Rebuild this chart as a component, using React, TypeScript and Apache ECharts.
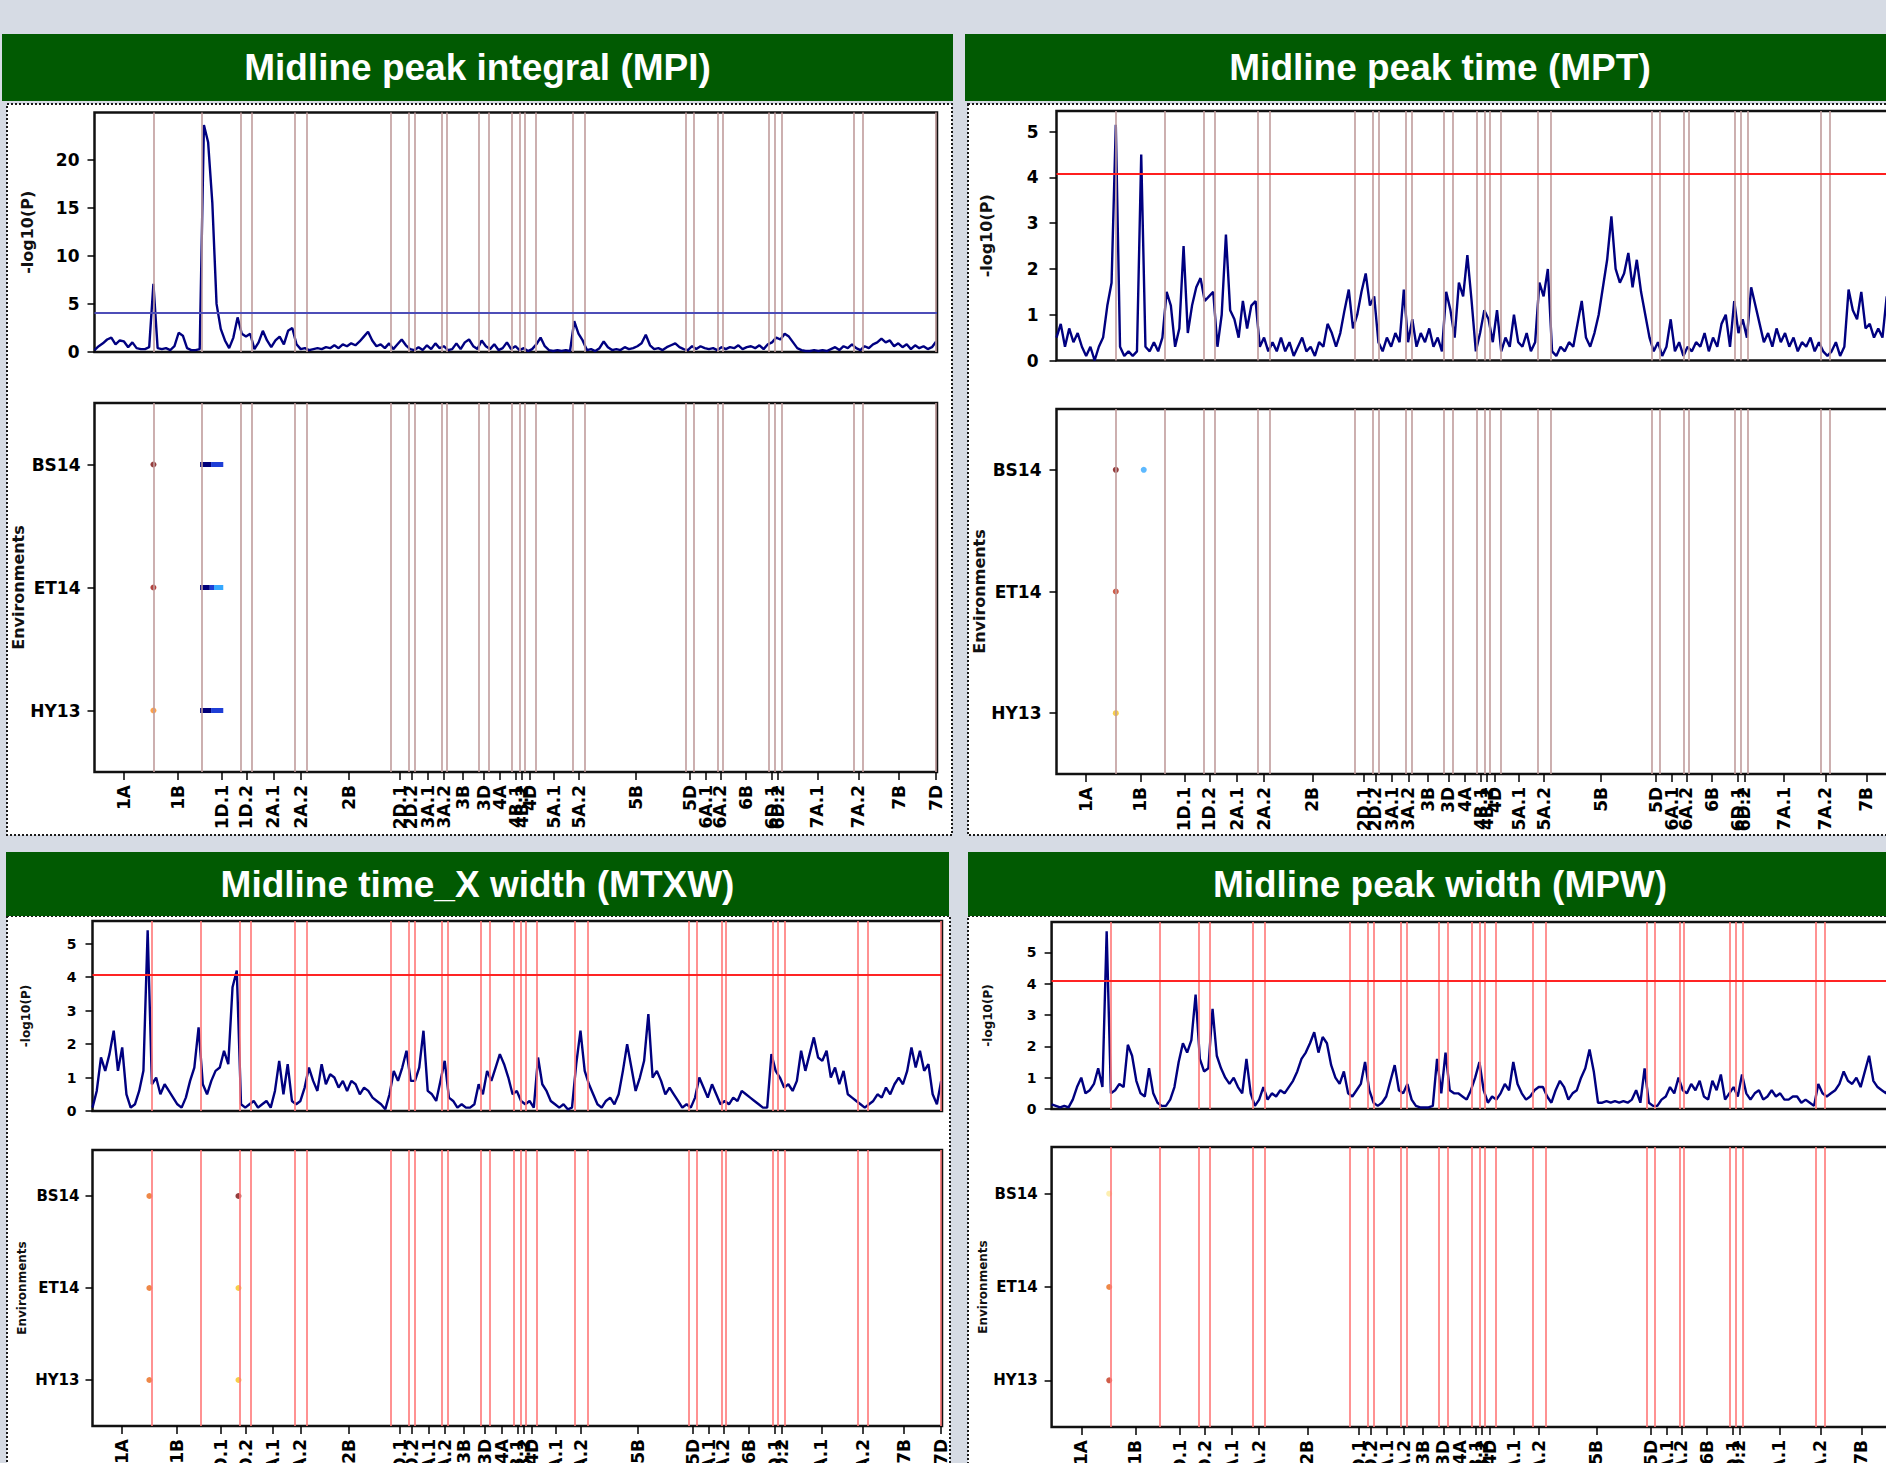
import React, { useEffect, useRef } from "react";
import * as echarts from "echarts";

// ---------- data ----------
const chromosomeNames = ["1A","1B","1D.1","1D.2","2A.1","2A.2","2B","2D.1","2D.2","3A.1","3A.2","3B","3D","4A","4B.1","4B.2","4D","5A.1","5A.2","5B","5D","6A.1","6A.2","6B","6D.1","6D.2","7A.1","7A.2","7B","7D"];
const chromosomeLengths = [70,58,46,13,51,14,100,21,7,32,7,38,11,28,9,6,13,44,15,120,9,29,5,55,7,8,86,11,86,2];
const environments = ["HY13", "ET14", "BS14"];
const markerSpacing = 5;

const mpiLogP = [
  0.2,0.6,0.9,1.3,1.5,0.8,1.2,1.1,0.5,1.0,
  0.4,0.3,0.3,0.5,7.1,0.4,0.3,0.4,0.2,0.6,
  2.0,1.7,0.4,0.2,0.2,0.3,23.6,21.8,15.5,5.0,
  2.4,1.2,0.4,1.5,3.6,1.9,1.6,1.9,0.3,1.0,
  2.2,1.2,0.5,1.2,1.6,0.8,2.2,2.5,0.8,0.3,
  0.4,0.2,0.3,0.4,0.3,0.5,0.4,0.7,0.4,0.8,
  0.6,0.9,0.7,1.1,1.6,2.1,1.2,0.6,0.8,0.4,
  0.9,0.3,0.8,1.3,0.7,0.3,0.2,0.5,0.2,0.7,
  0.3,0.9,0.4,0.6,0.2,0.3,0.9,0.3,1.0,1.3,
  0.6,0.3,1.2,0.6,0.3,0.8,0.2,0.4,1.0,0.3,
  0.6,0.2,0.4,0.1,0.3,0.8,1.5,0.6,0.2,0.1,
  0.2,0.1,0.2,0.1,3.2,1.9,1.2,0.2,0.3,0.1,
  0.4,1.1,0.5,0.2,0.3,0.2,0.5,0.3,0.4,0.6,
  0.9,1.8,0.7,0.3,0.4,0.2,0.5,0.7,0.9,0.5,
  0.3,0.2,0.6,0.3,0.6,0.4,0.3,0.4,0.2,0.5,
  0.3,0.5,0.4,0.7,0.3,0.5,0.6,0.4,0.7,0.3,
  0.8,1.0,1.5,1.3,1.9,1.6,1.0,0.4,0.2,0.1,
  0.1,0.2,0.1,0.2,0.1,0.3,0.5,0.2,0.6,0.4,
  0.8,0.4,0.2,0.6,0.4,0.8,1.0,1.4,1.0,1.2,
  0.6,0.9,0.5,0.8,0.3,0.7,0.4,0.6,0.3,0.5,
  1.1,
];

const mptLogP = [
  0.5,0.8,0.3,0.7,0.4,0.6,0.3,0.1,0.3,0.0,
  0.3,0.5,1.2,1.7,5.15,0.3,0.1,0.2,0.1,0.2,
  4.5,0.3,0.2,0.4,0.2,0.5,1.5,1.2,0.3,0.7,
  2.5,0.6,1.2,1.6,1.8,1.3,1.4,1.5,0.3,1.0,
  2.75,1.1,0.9,0.5,1.3,0.7,1.2,1.3,0.3,0.5,
  0.2,0.4,0.2,0.5,0.2,0.4,0.1,0.3,0.5,0.2,
  0.3,0.1,0.4,0.3,0.8,0.6,0.3,0.6,1.1,1.55,
  0.7,1.0,1.5,1.9,1.2,1.4,0.4,0.2,0.5,0.3,
  0.6,0.4,1.55,0.4,0.9,0.3,0.6,0.4,0.7,0.3,
  0.5,0.2,1.5,1.1,0.5,1.7,1.4,2.3,1.3,0.2,
  0.6,1.1,0.9,0.4,1.1,0.2,0.5,0.3,1.0,0.4,
  0.3,0.6,0.2,0.4,1.7,1.4,2.0,0.2,0.1,0.3,
  0.2,0.4,0.3,0.8,1.3,0.5,0.3,0.6,1.0,1.6,
  2.2,3.15,2.0,1.7,1.9,2.35,1.6,2.2,1.5,1.0,
  0.5,0.2,0.4,0.1,0.3,0.9,0.2,0.4,0.1,0.3,
  0.2,0.4,0.3,0.6,0.2,0.5,0.3,0.8,1.0,0.3,
  1.3,0.6,0.9,0.5,1.6,1.2,0.8,0.4,0.6,0.3,
  0.7,0.4,0.6,0.3,0.5,0.2,0.4,0.3,0.5,0.2,
  0.4,0.2,0.1,0.2,0.4,0.1,0.3,1.55,1.1,0.9,
  1.5,0.7,0.8,0.5,0.7,0.5,1.4,0.6,0.4,0.7,
  0.5,
];

const mtxwLogP = [
  0.1,0.6,1.6,1.2,1.7,2.4,1.2,1.9,0.5,0.1,
  0.2,0.6,1.2,5.4,0.8,1.0,0.5,0.8,0.6,0.4,
  0.2,0.1,0.4,0.9,1.3,2.5,0.8,0.5,0.9,1.2,
  1.3,1.8,1.4,3.7,4.2,0.2,0.1,0.2,0.3,0.1,
  0.2,0.3,0.1,0.6,1.5,0.5,1.4,0.3,0.2,0.3,
  0.7,1.3,0.9,0.6,1.4,0.8,1.1,1.0,0.7,0.9,
  0.6,0.9,0.8,0.5,0.7,0.6,0.4,0.3,0.2,0.05,
  0.5,1.2,0.9,1.3,1.8,0.9,0.9,1.3,2.4,0.6,
  0.5,0.3,0.9,1.5,0.4,0.3,0.1,0.2,0.1,0.1,
  0.2,0.8,0.5,1.2,0.9,1.3,1.7,1.4,1.0,0.5,
  0.6,0.3,0.2,0.3,0.1,1.6,0.8,0.6,0.3,0.2,
  0.1,0.2,0.05,0.1,1.4,2.4,1.2,0.8,0.5,0.2,
  0.1,0.3,0.4,0.2,0.5,1.2,2.0,1.3,0.6,1.0,
  1.5,2.9,1.0,1.2,0.9,0.5,0.7,0.5,0.3,0.1,
  0.2,0.1,0.4,1.0,0.7,0.4,0.8,0.5,0.2,0.3,
  0.2,0.4,0.3,0.6,0.5,0.4,0.3,0.2,0.1,0.1,
  1.7,1.2,1.0,0.7,0.8,0.6,0.9,1.8,1.2,1.7,
  2.2,1.6,1.5,1.8,1.0,1.3,0.8,1.2,0.5,0.4,
  0.3,0.2,0.1,0.2,0.3,0.5,0.4,0.7,0.5,0.8,
  1.0,0.8,1.2,1.9,1.3,1.8,1.2,1.4,0.5,0.2,
  0.9,
];

const mpwLogP = [
  0.15,0.1,0.05,0.1,0.05,0.3,0.7,1.0,0.5,0.6,
  0.8,1.3,0.7,5.67,0.5,0.6,0.8,0.7,2.05,1.7,
  0.9,0.5,0.4,1.3,0.5,0.2,0.1,0.1,0.3,0.7,
  1.5,2.1,1.8,2.2,3.65,1.6,1.2,1.3,3.2,1.7,
  1.3,1.0,0.8,1.0,0.7,0.5,1.6,0.5,0.1,0.3,
  0.7,0.3,0.5,0.4,0.6,0.5,0.7,0.9,1.2,1.6,
  1.8,2.1,2.45,1.8,2.3,2.1,1.4,1.0,0.8,1.2,
  0.5,0.4,0.6,0.8,1.5,0.6,0.2,0.1,0.2,0.4,
  0.9,1.4,0.6,0.5,0.8,0.3,0.1,0.05,0.05,0.05,
  0.1,1.6,0.5,1.8,0.6,0.5,0.5,0.4,0.3,0.6,
  1.0,1.5,0.6,0.2,0.4,0.3,0.5,0.8,0.6,1.5,
  0.8,0.5,0.3,0.4,0.6,0.7,0.7,0.4,0.2,0.6,
  0.9,0.7,0.3,0.5,0.6,1.0,1.3,1.9,1.2,0.2,
  0.2,0.25,0.2,0.25,0.2,0.25,0.2,0.3,0.6,0.2,
  1.3,0.2,0.1,0.1,0.3,0.4,0.7,0.5,1.0,0.6,
  0.5,0.8,0.6,0.9,0.4,0.3,0.9,0.6,1.1,0.3,
  0.5,0.7,0.4,1.1,0.5,0.3,0.5,0.6,0.3,0.4,
  0.6,0.4,0.5,0.3,0.3,0.4,0.4,0.2,0.3,0.2,
  0.1,0.8,0.5,0.4,0.5,0.6,0.8,1.2,0.9,0.8,
  1.0,0.7,1.2,1.7,0.9,0.7,0.6,0.5,0.8,0.6,
  0.7,
];

const mpiThreshold = 4.1;
const mptThreshold = 4.07;
const mtxwThreshold = 4.07;
const mpwThreshold = 4.09;

type Hit = { env: string; start: number; end: number; effect: number };
const mpiHits: Hit[] = [
  { env: "BS14", start: 70, end: 70, effect: 3 },
  { env: "BS14", start: 125.5, end: 138.5, effect: -3 },
  { env: "BS14", start: 138.5, end: 153, effect: -2 },
  { env: "ET14", start: 70, end: 70, effect: 2.8 },
  { env: "ET14", start: 125.5, end: 137, effect: -3 },
  { env: "ET14", start: 137, end: 142, effect: -2 },
  { env: "ET14", start: 142, end: 153, effect: -1 },
  { env: "HY13", start: 70, end: 70, effect: 1.5 },
  { env: "HY13", start: 125.5, end: 138.5, effect: -3 },
  { env: "HY13", start: 138.5, end: 153, effect: -2 },
];
const mptHits: Hit[] = [
  { env: "BS14", start: 70, end: 70, effect: 3 },
  { env: "BS14", start: 103, end: 103, effect: -1 },
  { env: "ET14", start: 70, end: 70, effect: 2.5 },
  { env: "HY13", start: 70, end: 70, effect: 1 },
];
const mtxwHits: Hit[] = [
  { env: "BS14", start: 67, end: 67, effect: 2 },
  { env: "BS14", start: 172, end: 172, effect: 3 },
  { env: "ET14", start: 67, end: 67, effect: 2 },
  { env: "ET14", start: 172, end: 172, effect: 1 },
  { env: "HY13", start: 67, end: 67, effect: 2 },
  { env: "HY13", start: 172, end: 172, effect: 1 },
];
const mpwHits: Hit[] = [
  { env: "BS14", start: 68, end: 68, effect: 0.5 },
  { env: "ET14", start: 68, end: 68, effect: 2 },
  { env: "HY13", start: 68, end: 68, effect: 2.5 },
];

// ---------- helpers ----------
const effectColor = (e: number) =>
  e >= 3 ? "#7a0c0c" : e >= 2.8 ? "#a0150f" : e >= 2.5 ? "#c4341c" : e >= 2 ? "#ea6a1a" : e >= 1.5 ? "#ff8a1c" : e >= 1 ? "#f5c21c" : e > 0 ? "#fdeb9c" : e > -1.5 ? "#35a8ff" : e > -2.5 ? "#1e3ed6" : "#00007a";

const AXIS_FONT = '"DejaVu Sans", Verdana, sans-serif';
const TITLE_FONT = '"Liberation Sans", Arial, Helvetica, sans-serif';

export default function App() {
  const ref = useRef<HTMLDivElement>(null);

  useEffect(() => {
    if (!ref.current) return;
    const chart = echarts.init(ref.current, null, { renderer: "svg" });

    const totalLength = chromosomeLengths.reduce((a, b) => a + b, 0);
    const ends: number[] = [];
    let acc = 0;
    chromosomeLengths.forEach((l) => { acc += l; ends.push(acc); });
    const boundaries = ends.slice(0, -1);
    const centers = chromosomeLengths.map((l, i) => ends[i] - l / 2);
    const centerLabel = (v: number) => {
      const i = centers.findIndex((c) => Math.abs(c - v) < 0.01);
      return i >= 0 ? chromosomeNames[i] : "";
    };

    const panels = [
      {
        title: "Midline peak integral (MPI)", values: mpiLogP, hits: mpiHits, threshold: mpiThreshold,
        yMax: 24.9, yInterval: 5, thresholdColor: "#4d4db8", boundaryColor: "#c09c9c",
        header: [2, 34, 951, 67], box: [7, 104, 945, 731], titleX: 477.5, titleY: 67.5,
        left: 94.5, width: 842.5, top: 112.5, height: 239.5, envTop: 403, envHeight: 369,
        tickFont: 17, nameFont: 16, gapP: 59, gapE: 66, marginP: 15, marginE: 14,
      },
      {
        title: "Midline peak time (MPT)", values: mptLogP, hits: mptHits, threshold: mptThreshold,
        yMax: 5.45, yInterval: 1, thresholdColor: "#ff1f1f", boundaryColor: "#c09c9c",
        header: [965, 34, 960, 67], box: [968, 104, 960, 731], titleX: 1440, titleY: 67.5,
        left: 1056.5, width: 848, top: 111, height: 249.5, envTop: 409, envHeight: 365,
        tickFont: 17, nameFont: 16, gapP: 62, gapE: 68, marginP: 18, marginE: 15,
      },
      {
        title: "Midline time_X width (MTXW)", values: mtxwLogP, hits: mtxwHits, threshold: mtxwThreshold,
        yMax: 5.68, yInterval: 1, thresholdColor: "#ff2424", boundaryColor: "#ff7777",
        header: [6, 852, 943, 64], box: [7, 916, 943, 600], titleX: 477.5, titleY: 884,
        left: 92.5, width: 849.5, top: 921, height: 190, envTop: 1150, envHeight: 276,
        tickFont: 15, nameFont: 12, gapP: 61, gapE: 65, marginP: 16, marginE: 13,
      },
      {
        title: "Midline peak width (MPW)", values: mpwLogP, hits: mpwHits, threshold: mpwThreshold,
        yMax: 5.97, yInterval: 1, thresholdColor: "#ff2424", boundaryColor: "#ff7777",
        header: [968, 852, 960, 64], box: [968, 916, 960, 600], titleX: 1440, titleY: 884,
        left: 1051.6, width: 848, top: 922, height: 187, envTop: 1147, envHeight: 280,
        tickFont: 15, nameFont: 12, gapP: 58, gapE: 62, marginP: 15, marginE: 14,
      },
    ];

    const grid: any[] = [];
    const xAxis: any[] = [];
    const yAxis: any[] = [];
    const series: any[] = [];
    const graphic: any[] = [];

    panels.forEach((p, k) => {
      const gi = k * 2;
      const ge = k * 2 + 1;
      const tickLabelStyle = { fontFamily: AXIS_FONT, fontWeight: "bold", fontSize: p.tickFont, color: "#000" };
      const nameStyle = { fontFamily: AXIS_FONT, fontWeight: "bold", fontSize: p.nameFont, color: "#111" };
      const yTicks: number[] = [];
      for (let v = 0; v <= p.yMax + 1e-9; v += p.yInterval) yTicks.push(v);

      // panel decoration
      graphic.push({
        type: "rect", z: -10, silent: true,
        shape: { x: p.box[0], y: p.box[1], width: p.box[2], height: p.box[3] },
        style: { fill: "#ffffff", stroke: "#1a1a1a", lineWidth: 2, lineDash: [2, 2] },
      });
      graphic.push({
        type: "rect", z: -9, silent: true,
        shape: { x: p.header[0], y: p.header[1], width: p.header[2], height: p.header[3] },
        style: { fill: "#015a02" },
      });
      graphic.push({
        type: "text", z: 10, silent: true, x: p.titleX, y: p.titleY,
        style: {
          text: p.title, fill: "#ffffff", font: `bold 37px ${TITLE_FONT}`,
          align: "center", verticalAlign: "middle", textAlign: "center", textVerticalAlign: "middle",
        },
      });

      grid.push({
        left: p.left, top: p.top, width: p.width, height: p.height,
        show: true, borderColor: "#111", borderWidth: 2.5, backgroundColor: "transparent",
        containLabel: false, outerBoundsMode: "none",
      });
      grid.push({
        left: p.left, top: p.envTop, width: p.width, height: p.envHeight,
        show: true, borderColor: "#111", borderWidth: 2.5, backgroundColor: "transparent",
        containLabel: false, outerBoundsMode: "none",
      });

      xAxis.push({ type: "value", gridIndex: gi, min: 0, max: totalLength, show: false, splitLine: { show: false } });
      xAxis.push({
        type: "value", gridIndex: ge, min: 0, max: totalLength,
        axisLine: { show: false }, splitLine: { show: false },
        axisTick: { show: true, customValues: centers, length: 8, lineStyle: { color: "#000", width: 1.5 } },
        axisLabel: { show: true, customValues: centers, rotate: 90, margin: 13, formatter: centerLabel, ...tickLabelStyle, fontSize: 17 },
      });

      yAxis.push({
        type: "value", gridIndex: gi, min: 0, max: p.yMax, interval: p.yInterval,
        name: "-log10(P)", nameLocation: "middle", nameGap: p.gapP, nameTextStyle: nameStyle,
        axisLine: { show: false }, splitLine: { show: false },
        axisTick: { show: true, customValues: yTicks, length: 7, lineStyle: { color: "#000", width: 1.5 } },
        axisLabel: {
          customValues: yTicks, showMaxLabel: true, showMinLabel: true, margin: p.marginP, ...tickLabelStyle,
          fontSize: p.tickFont - (k >= 2 ? 1 : 0),
        },
      });
      yAxis.push({
        type: "category", gridIndex: ge, data: environments, boundaryGap: true,
        name: "Environments", nameLocation: "middle", nameGap: p.gapE, nameTextStyle: nameStyle,
        axisLine: { show: false }, splitLine: { show: false },
        axisTick: { show: true, alignWithLabel: true, length: 7, lineStyle: { color: "#000", width: 1.5 } },
        axisLabel: { margin: p.marginE, ...tickLabelStyle },
      });

      const boundaryMarks = {
        silent: true, symbol: ["none", "none"], label: { show: false },
        lineStyle: { color: p.boundaryColor, width: 1.6, type: "solid" },
        emphasis: { disabled: true },
        data: boundaries.map((b) => ({ xAxis: b })),
      };

      // boundaries + threshold in manhattan plot
      series.push({
        type: "line", xAxisIndex: gi, yAxisIndex: gi, data: [[0, 0]], showSymbol: false, silent: true,
        lineStyle: { width: 0 }, z: 1,
        markLine: {
          ...boundaryMarks,
          data: [
            ...boundaries.map((b) => ({ xAxis: b })),
            { yAxis: p.threshold, lineStyle: { color: p.thresholdColor, width: 2, type: "solid" } },
          ],
        },
      });
      // -log10(P) trace
      series.push({
        type: "line", xAxisIndex: gi, yAxisIndex: gi, z: 3, silent: true,
        data: p.values.map((v, i) => [i * markerSpacing, v]),
        showSymbol: false, symbol: "none",
        lineStyle: { color: "#000080", width: 2.4 },
      });
      // boundaries in environment plot
      series.push({
        type: "line", xAxisIndex: ge, yAxisIndex: ge, data: [[0, environments[0]]], showSymbol: false, silent: true,
        lineStyle: { width: 0 }, z: 1, markLine: boundaryMarks,
      });
      // single significant markers
      series.push({
        type: "scatter", xAxisIndex: ge, yAxisIndex: ge, z: 4, silent: true,
        symbol: "circle", symbolSize: 6,
        data: p.hits.filter((h) => h.end === h.start).map((h) => ({
          value: [h.start, h.env], itemStyle: { color: effectColor(h.effect) },
        })),
      });
      // runs of significant markers
      p.hits.filter((h) => h.end > h.start).forEach((h) => {
        series.push({
          type: "line", xAxisIndex: ge, yAxisIndex: ge, z: 4, silent: true, showSymbol: false, symbol: "none",
          data: [[h.start, h.env], [h.end, h.env]],
          lineStyle: { color: effectColor(h.effect), width: 5, cap: "butt" },
        });
      });
    });

    chart.setOption({
      animation: false,
      backgroundColor: "#d6dbe4",
      grid, xAxis, yAxis, series, graphic,
    });

    return () => chart.dispose();
  }, []);

  return (
    <div style={{ position: "fixed", left: 0, top: 0, width: 1886, height: 1463, overflow: "hidden", background: "#d6dbe4" }}>
      <div ref={ref} style={{ width: 1960, height: 1463 }} />
    </div>
  );
}
